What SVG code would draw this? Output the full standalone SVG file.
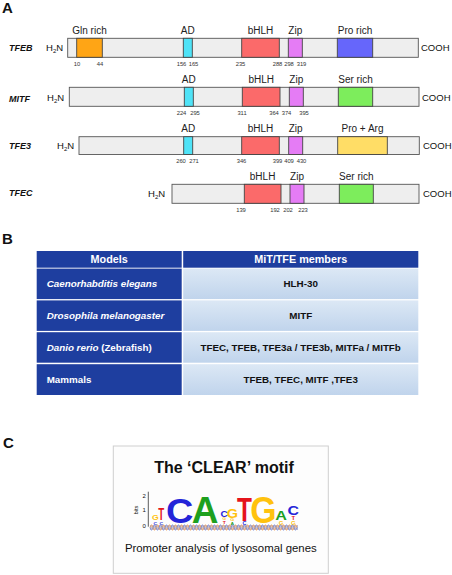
<svg xmlns="http://www.w3.org/2000/svg" width="452" height="575" viewBox="0 0 452 575">
<style>
text{font-family:"Liberation Sans",Arial,sans-serif;fill:#111}
.pl{font-size:15px;font-weight:bold}
.gn{font-size:9px;font-weight:bold;font-style:italic}
.tm{font-size:9.5px}
.dl{font-size:10px;text-anchor:middle;fill:#222}
.nm{font-size:5.8px;text-anchor:middle;fill:#333}
.bar{fill:#eeeeee;stroke:#555;stroke-width:0.9}
.dm{stroke:#444;stroke-width:0.9}
.gln{fill:#ffa515}.ad{fill:#4fe3f7}.bh{fill:#fb6a6a}.zip{fill:#e57cf5}.pro{fill:#6666fb}.ser{fill:#7ded5c}.pa{fill:#ffdd66}
.hd{fill:#1e3e9f}
.lc{fill:#1e3e9f}
.rc{fill:url(#rg)}
.ht{font-size:10.8px;font-weight:bold;fill:#fff;text-anchor:middle}
.lt{font-size:9.8px;font-weight:bold;fill:#fff}
.rt{font-size:9.8px;font-weight:bold;fill:#111;text-anchor:middle}
.lg{font-weight:bold;font-size:10px;text-anchor:middle}
.cB{fill:#2424d8}.cA{fill:#1ea01e}.cG{fill:#ffc20e}.cT{fill:#e5141c}
</style>
<defs>
<linearGradient id="rg" x1="0" y1="0" x2="0" y2="1">
<stop offset="0" stop-color="#dce8f5"/>
<stop offset="1" stop-color="#c0d4ec"/>
</linearGradient>
<pattern id="rung" width="1.5" height="6" patternUnits="userSpaceOnUse">
<rect x="0" y="0" width="0.55" height="6" fill="#8aa0e0"/>
<rect x="0.75" y="0" width="0.5" height="6" fill="#f0b080"/>
</pattern>
</defs>
<rect width="452" height="575" fill="#fff"/>

<text class="pl" x="2" y="13">A</text>
<text class="pl" x="2" y="244">B</text>
<text class="pl" x="3" y="448">C</text>

<g id="tfeb">
<text class="gn" x="9" y="51">TFEB</text>
<text class="tm" x="46" y="51">H<tspan font-size="6" dy="2">2</tspan><tspan dy="-2">N</tspan></text>
<rect class="bar" x="67.7" y="38.3" width="350.6" height="19"/>
<rect class="dm gln" x="76.7" y="38.3" width="25.6" height="19"/>
<rect class="dm ad" x="183.3" y="38.3" width="9" height="19"/>
<rect class="dm bh" x="241.7" y="38.3" width="37.6" height="19"/>
<rect class="dm zip" x="288.3" y="38.3" width="14" height="19"/>
<rect class="dm pro" x="337.3" y="38.3" width="35.4" height="19"/>
<text class="tm" x="421" y="51">COOH</text>
<text class="dl" x="89.5" y="34">Gln rich</text>
<text class="dl" x="187.8" y="34">AD</text>
<text class="dl" x="260.5" y="34">bHLH</text>
<text class="dl" x="295.3" y="34">Zip</text>
<text class="dl" x="355" y="34">Pro rich</text>
<text class="nm" x="77" y="66">10</text>
<text class="nm" x="100" y="66">44</text>
<text class="nm" x="181.5" y="66">156</text>
<text class="nm" x="193.5" y="66">165</text>
<text class="nm" x="240.5" y="66">235</text>
<text class="nm" x="277.5" y="66">288</text>
<text class="nm" x="289" y="66">298</text>
<text class="nm" x="301.5" y="66">319</text>
</g>

<g id="mitf">
<text class="gn" x="9" y="101.5">MITF</text>
<text class="tm" x="47" y="101">H<tspan font-size="6" dy="2">2</tspan><tspan dy="-2">N</tspan></text>
<rect class="bar" x="69.3" y="87.3" width="349.7" height="19"/>
<rect class="dm ad" x="184.3" y="87.3" width="9" height="19"/>
<rect class="dm bh" x="242.3" y="87.3" width="37.7" height="19"/>
<rect class="dm zip" x="289.3" y="87.3" width="14" height="19"/>
<rect class="dm ser" x="338.3" y="87.3" width="34.4" height="19"/>
<text class="tm" x="422" y="101">COOH</text>
<text class="dl" x="188.8" y="83">AD</text>
<text class="dl" x="261.2" y="83">bHLH</text>
<text class="dl" x="296.3" y="83">Zip</text>
<text class="dl" x="355.5" y="83">Ser rich</text>
<text class="nm" x="181.5" y="114.5">224</text>
<text class="nm" x="195" y="114.5">295</text>
<text class="nm" x="242" y="114.5">311</text>
<text class="nm" x="274" y="114.5">364</text>
<text class="nm" x="286.5" y="114.5">374</text>
<text class="nm" x="304" y="114.5">395</text>
</g>

<g id="tfe3">
<text class="gn" x="9" y="148.5">TFE3</text>
<text class="tm" x="57" y="148.5">H<tspan font-size="6" dy="2">2</tspan><tspan dy="-2">N</tspan></text>
<rect class="bar" x="79" y="136.7" width="340.3" height="17.8"/>
<rect class="dm ad" x="183.7" y="136.7" width="9" height="17.8"/>
<rect class="dm bh" x="241.7" y="136.7" width="37.6" height="17.8"/>
<rect class="dm zip" x="288.7" y="136.7" width="14" height="17.8"/>
<rect class="dm pa" x="337.7" y="136.7" width="49.6" height="17.8"/>
<text class="tm" x="423" y="148.5">COOH</text>
<text class="dl" x="188.2" y="131.7">AD</text>
<text class="dl" x="260.5" y="131.7">bHLH</text>
<text class="dl" x="295.7" y="131.7">Zip</text>
<text class="dl" x="362.5" y="131.7">Pro + Arg</text>
<text class="nm" x="181" y="162.5">260</text>
<text class="nm" x="194" y="162.5">271</text>
<text class="nm" x="241.5" y="162.5">346</text>
<text class="nm" x="277.5" y="162.5">399</text>
<text class="nm" x="289" y="162.5">409</text>
<text class="nm" x="301.5" y="162.5">430</text>
</g>

<g id="tfec">
<text class="gn" x="9" y="196">TFEC</text>
<text class="tm" x="148" y="197">H<tspan font-size="6" dy="2">2</tspan><tspan dy="-2">N</tspan></text>
<rect class="bar" x="172" y="184.3" width="247" height="19"/>
<rect class="dm bh" x="244.3" y="184.3" width="36.7" height="19"/>
<rect class="dm zip" x="290" y="184.3" width="14" height="19"/>
<rect class="dm ser" x="339.3" y="184.3" width="34" height="19"/>
<text class="tm" x="423" y="197">COOH</text>
<text class="dl" x="262.6" y="180">bHLH</text>
<text class="dl" x="297" y="180">Zip</text>
<text class="dl" x="356.3" y="180">Ser rich</text>
<text class="nm" x="241" y="212">139</text>
<text class="nm" x="275" y="212">192</text>
<text class="nm" x="288" y="212">202</text>
<text class="nm" x="303" y="212">223</text>
</g>

<g id="table">
<rect class="hd" x="36.7" y="251" width="145" height="16.7"/>
<rect class="hd" x="183.2" y="251" width="235.1" height="16.7"/>
<text class="ht" x="109.2" y="263">Models</text>
<text class="ht" x="300.7" y="263">MiT/TFE members</text>

<rect class="lc" x="36.7" y="268.6" width="145" height="30.5"/>
<rect class="rc" x="183.2" y="268.6" width="235.1" height="30.5"/>
<text class="lt" x="46.7" y="287.2"><tspan font-style="italic">Caenorhabditis elegans</tspan></text>
<text class="rt" x="300.7" y="287.2">HLH-30</text>

<rect class="lc" x="36.7" y="300.4" width="145" height="30.5"/>
<rect class="rc" x="183.2" y="300.4" width="235.1" height="30.5"/>
<text class="lt" x="46.7" y="319"><tspan font-style="italic">Drosophila melanogaster</tspan></text>
<text class="rt" x="300.7" y="319">MITF</text>

<rect class="lc" x="36.7" y="332.2" width="145" height="30.5"/>
<rect class="rc" x="183.2" y="332.2" width="235.1" height="30.5"/>
<text class="lt" x="46.7" y="351"><tspan font-style="italic">Danio rerio</tspan> (Zebrafish)</text>
<text class="rt" x="300.7" y="351">TFEC, TFEB, TFE3a / TFE3b, MITFa / MITFb</text>

<rect class="lc" x="36.7" y="364.2" width="145" height="30.8"/>
<rect class="rc" x="183.2" y="364.2" width="235.1" height="30.8"/>
<text class="lt" x="46.7" y="383">Mammals</text>
<text class="rt" x="300.7" y="383">TFEB, TFEC, MITF ,TFE3</text>
</g>

<g id="clear-motif">
<rect x="113.3" y="446" width="215" height="127.3" fill="#fdfdfd" stroke="#cfcfcf" stroke-width="1"/>
<text x="224" y="473.3" font-size="16" font-weight="bold" text-anchor="middle">The ‘CLEAR’ motif</text>
<line x1="148.3" y1="491.7" x2="148.3" y2="526.7" stroke="#333" stroke-width="0.8"/>
<g font-size="6" text-anchor="end" fill="#333">
<text x="145.8" y="497.7">2</text>
<text x="145.8" y="511.7">1</text>
<text x="145.8" y="527.5">0</text>
</g>
<text transform="translate(138,510) rotate(-90)" font-size="5.8" text-anchor="middle">bits</text>

<text class="lg cG" transform="translate(155.3,520) scale(0.87,0.77)">G</text>
<text class="lg cB" transform="translate(155.3,525) scale(0.5,0.42)">C</text>
<text class="lg cT" transform="translate(161.2,520) scale(0.97,1.72)">T</text>
<text class="lg cB" transform="translate(161.2,525) scale(0.5,0.42)">C</text>
<text class="lg cB" transform="translate(179.7,523.3) scale(3.8,3.6)">C</text>
<text class="lg cA" transform="translate(205,523.3) scale(3.7,3.72)">A</text>
<text class="lg cB" transform="translate(224.2,516.7) scale(1.0,0.9)">C</text>
<text class="lg cG" transform="translate(224.2,520.2) scale(0.45,0.4)">G</text>
<text class="lg cT" transform="translate(224.2,523.8) scale(0.5,0.42)">T</text>
<text class="lg cG" transform="translate(232.3,517.5) scale(1.45,1.35)">G</text>
<text class="lg cG" transform="translate(232.3,521.2) scale(0.5,0.4)">G</text>
<text class="lg cA" transform="translate(232.3,524.8) scale(0.5,0.42)">A</text>
<text class="lg cT" transform="translate(244.5,520.7) scale(2.44,3.31)">T</text>
<text class="lg cB" transform="translate(244.5,524.8) scale(0.55,0.45)">C</text>
<text class="lg cG" transform="translate(263.3,523.3) scale(3.38,3.6)">G</text>
<text class="lg cA" transform="translate(281,520) scale(1.62,1.33)">A</text>
<text class="lg cG" transform="translate(281,524.8) scale(0.6,0.45)">G</text>
<text class="lg cB" transform="translate(293.3,515) scale(1.59,1.35)">C</text>
<text class="lg cT" transform="translate(293.3,520) scale(0.6,0.55)">T</text>
<text class="lg cG" transform="translate(293.3,524.8) scale(0.6,0.45)">G</text>

<rect x="150" y="525" width="148" height="5" fill="url(#rung)"/>
<path d="M150 527.5 q1.5 -5.2 3 0 t3 0 t3 0 t3 0 t3 0 t3 0 t3 0 t3 0 t3 0 t3 0 t3 0 t3 0 t3 0 t3 0 t3 0 t3 0 t3 0 t3 0 t3 0 t3 0 t3 0 t3 0 t3 0 t3 0 t3 0 t3 0 t3 0 t3 0 t3 0 t3 0 t3 0 t3 0 t3 0 t3 0 t3 0 t3 0 t3 0 t3 0 t3 0 t3 0 t3 0 t3 0 t3 0 t3 0 t3 0 t3 0 t3 0 t3 0 t3 0" fill="none" stroke="#f29a4a" stroke-width="0.8"/>
<path d="M150 527.5 q1.5 5.2 3 0 t3 0 t3 0 t3 0 t3 0 t3 0 t3 0 t3 0 t3 0 t3 0 t3 0 t3 0 t3 0 t3 0 t3 0 t3 0 t3 0 t3 0 t3 0 t3 0 t3 0 t3 0 t3 0 t3 0 t3 0 t3 0 t3 0 t3 0 t3 0 t3 0 t3 0 t3 0 t3 0 t3 0 t3 0 t3 0 t3 0 t3 0 t3 0 t3 0 t3 0 t3 0 t3 0 t3 0 t3 0 t3 0 t3 0 t3 0 t3 0" fill="none" stroke="#6a86e0" stroke-width="0.8"/>

<text x="220.8" y="551.7" font-size="11.4" text-anchor="middle">Promoter analysis of lysosomal genes</text>
</g>
</svg>
